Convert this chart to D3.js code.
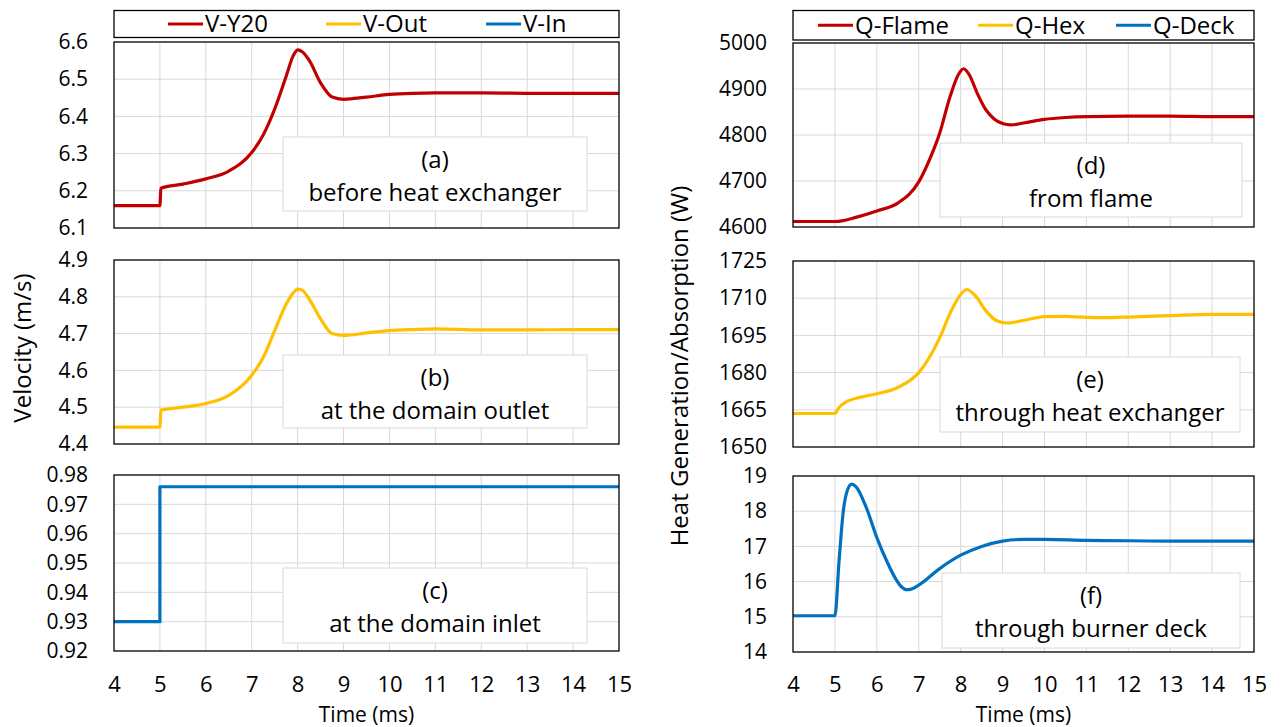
<!DOCTYPE html>
<html>
<head>
<meta charset="utf-8">
<script src="https://cdn.jsdelivr.net/npm/d3@7/dist/d3.min.js"></script>
<style>
  body { margin: 0; background: #fff; }
  text { font-family: "Open Sans", sans-serif; fill: #000; }
</style>
</head>
<body>
<div id="wrapper"></div>
<script>
(function () {
  "use strict";

  // DATA
  const timeV = [4, 5, 5.02, 5.5, 6, 6.5, 7, 7.25, 7.5, 7.75, 7.9, 8, 8.1, 8.25, 8.5, 8.75, 9, 9.5, 10, 10.5, 11, 12, 13, 14, 15]
  const vY20 = [6.16, 6.16, 6.207, 6.218, 6.232, 6.253, 6.303, 6.35, 6.42, 6.508, 6.562, 6.579, 6.574, 6.551, 6.49, 6.452, 6.446, 6.452, 6.459, 6.462, 6.463, 6.463, 6.462, 6.462, 6.462]
  const vOut = [4.446, 4.446, 4.492, 4.5, 4.51, 4.532, 4.587, 4.635, 4.708, 4.78, 4.81, 4.821, 4.818, 4.794, 4.74, 4.7, 4.695, 4.702, 4.708, 4.711, 4.713, 4.71, 4.71, 4.711, 4.711]

  const timeIn = [4, 5, 5, 15]
  const vIn = [0.93, 0.93, 0.976, 0.976]

  const timeFlame = [4, 5, 5.2, 5.5, 6, 6.5, 7, 7.25, 7.5, 7.75, 7.95, 8.07, 8.2, 8.4, 8.6, 8.8, 9, 9.2, 9.5, 10, 10.5, 11, 12, 13, 14, 15]
  const qFlame = [4612, 4612, 4614, 4621, 4635, 4652, 4698, 4745, 4804, 4884, 4932, 4944, 4932, 4890, 4855, 4835, 4825, 4822, 4826, 4834, 4838, 4840, 4841, 4841, 4840, 4840]

  const timeHex = [4, 5, 5.1, 5.3, 5.6, 6, 6.5, 7, 7.25, 7.5, 7.75, 8, 8.15, 8.35, 8.6, 8.85, 9.1, 9.5, 10, 10.5, 11, 11.5, 12, 13, 14, 15]
  const qHex = [1663.5, 1663.5, 1666, 1668.5, 1670, 1671.5, 1674, 1680, 1686, 1694, 1704, 1711.5, 1713.5, 1711, 1705, 1701, 1700, 1701, 1702.6, 1702.7, 1702.3, 1702.2, 1702.4, 1703, 1703.5, 1703.5]

  const timeDeck = [4, 5, 5.1, 5.2, 5.3, 5.4, 5.5, 5.75, 6, 6.25, 6.45, 6.6, 6.7, 6.8, 7, 7.5, 8, 8.5, 9, 9.5, 10, 11, 12, 13, 14, 15]
  const qDeck = [15.03, 15.03, 16.6, 18.0, 18.6, 18.77, 18.7, 18.1, 17.25, 16.55, 16.08, 15.84, 15.77, 15.78, 15.9, 16.37, 16.75, 17.0, 17.15, 17.2, 17.2, 17.17, 17.16, 17.15, 17.15, 17.15]

  const xTicks = d3.range(4, 16, 1)
  const ticksA = [6.1, 6.2, 6.3, 6.4, 6.5, 6.6]
  const ticksB = [4.4, 4.5, 4.6, 4.7, 4.8, 4.9]
  const ticksC = [0.92, 0.93, 0.94, 0.95, 0.96, 0.97, 0.98]
  const ticksD = [4600, 4700, 4800, 4900, 5000]
  const ticksE = [1650, 1665, 1680, 1695, 1710, 1725]
  const ticksF = [14, 15, 16, 17, 18, 19]

  const legendLeft = ["V-Y20", "V-Out", "V-In"]
  const legendRight = ["Q-Flame", "Q-Hex", "Q-Deck"]
  const colors = ["#c00000", "#ffc000", "#0070c0"]

  function draw() {

    // DIMENSIONS
    const dimensions = { width: 1288, height: 727 }
    const cols = [{ left: 114, right: 619 }, { left: 793, right: 1254 }]

    const panels = [
      { col: 0, top: 42, bottom: 228, t: timeV, v: vY20, ticks: ticksA, fmt: ".1f", color: colors[0],
        box: { x: 283, y: 137, w: 304, h: 74 }, label: ["(a)", "before heat exchanger"] },
      { col: 0, top: 260, bottom: 444, t: timeV, v: vOut, ticks: ticksB, fmt: ".1f", color: colors[1],
        box: { x: 283, y: 355, w: 304, h: 73 }, label: ["(b)", "at the domain outlet"] },
      { col: 0, top: 475, bottom: 651, t: timeIn, v: vIn, ticks: ticksC, fmt: ".2f", color: colors[2], linear: true,
        box: { x: 283, y: 568, w: 304, h: 75 }, label: ["(c)", "at the domain inlet"] },
      { col: 1, top: 43, bottom: 227, t: timeFlame, v: qFlame, ticks: ticksD, fmt: "d", color: colors[0],
        box: { x: 940, y: 143, w: 302, h: 74 }, label: ["(d)", "from flame"] },
      { col: 1, top: 261, bottom: 447, t: timeHex, v: qHex, ticks: ticksE, fmt: "d", color: colors[1],
        box: { x: 940, y: 357, w: 300, h: 75 }, label: ["(e)", "through heat exchanger"] },
      { col: 1, top: 476, bottom: 652, t: timeDeck, v: qDeck, ticks: ticksF, fmt: "d", color: colors[2],
        box: { x: 942, y: 573, w: 298, h: 75 }, label: ["(f)", "through burner deck"] }
    ]

    // CHART AREA
    const svg = d3.select("#wrapper").append("svg")
      .attr("width", dimensions.width)
      .attr("height", dimensions.height)
      .style("display", "block")

    svg.append("rect")
      .attr("width", dimensions.width)
      .attr("height", dimensions.height)
      .attr("fill", "#fff")

    panels.forEach(p => {
      const c = cols[p.col]
      const xScale = d3.scaleLinear().domain([4, 15]).range([c.left, c.right])
      const yScale = d3.scaleLinear().domain(d3.extent(p.ticks)).range([p.bottom, p.top])

      const g = svg.append("g")

      // gridlines
      g.append("g")
        .selectAll("line")
        .data(xTicks.slice(1, -1))
        .join("line")
        .attr("x1", d => xScale(d)).attr("x2", d => xScale(d))
        .attr("y1", p.top).attr("y2", p.bottom)
        .attr("stroke", "#d9d9d9").attr("stroke-width", 1)

      g.append("g")
        .selectAll("line")
        .data(p.ticks.slice(1, -1))
        .join("line")
        .attr("x1", c.left).attr("x2", c.right)
        .attr("y1", d => yScale(d)).attr("y2", d => yScale(d))
        .attr("stroke", "#d9d9d9").attr("stroke-width", 1)

      // y axis labels
      const yAxis = d3.axisLeft(yScale)
        .tickValues(p.ticks)
        .tickFormat(d3.format(p.fmt))
        .tickSize(0)
        .tickPadding(26)

      g.append("g")
        .attr("transform", `translate(${c.left},0)`)
        .call(yAxis)
        .call(ax => ax.select(".domain").remove())
        .selectAll("text")
        .style("font-family", "'Open Sans', sans-serif")
        .style("font-size", "21px")
        .attr("fill", "#000")

      // annotation box
      g.append("rect")
        .attr("x", p.box.x).attr("y", p.box.y)
        .attr("width", p.box.w).attr("height", p.box.h)
        .attr("fill", "#fff")
        .attr("stroke", "#d9d9d9")

      g.selectAll("text.note")
        .data(p.label)
        .join("text")
        .attr("class", "note")
        .attr("x", p.box.x + p.box.w / 2)
        .attr("y", (d, i) => p.box.y + (i === 0 ? 23 : 56))
        .attr("dy", "0.35em")
        .attr("text-anchor", "middle")
        .style("font-size", "24px")
        .text(d => d)

      // line
      const line = d3.line()
        .x((d, i) => xScale(p.t[i]))
        .y(d => yScale(d))
        .curve(p.linear ? d3.curveLinear : d3.curveMonotoneX)

      g.append("path")
        .datum(p.v)
        .attr("d", line)
        .attr("fill", "none")
        .attr("stroke", p.color)
        .attr("stroke-width", 3.2)
        .attr("stroke-linejoin", "round")

      // frame
      g.append("rect")
        .attr("x", c.left).attr("y", p.top)
        .attr("width", c.right - c.left).attr("height", p.bottom - p.top)
        .attr("fill", "none")
        .attr("stroke", "#000")
        .attr("stroke-width", 1.3)
    })

    // X AXES
    cols.forEach(c => {
      const xScale = d3.scaleLinear().domain([4, 15]).range([c.left, c.right])
      const xAxis = d3.axisBottom(xScale).tickValues(xTicks).tickSize(0).tickPadding(0)
      svg.append("g")
        .attr("transform", "translate(0,684)")
        .call(xAxis)
        .call(ax => ax.select(".domain").remove())
        .selectAll("text")
        .style("font-family", "'Open Sans', sans-serif")
        .style("font-size", "22px")
        .attr("fill", "#000")
        .attr("y", 0)
        .attr("dy", "0.35em")

      svg.append("text")
        .attr("x", (c.left + c.right) / 2)
        .attr("y", 715)
        .attr("dy", "0.35em")
        .attr("text-anchor", "middle")
        .style("font-size", "21px")
        .text("Time (ms)")
    })

    // Y TITLES
    svg.append("text")
      .attr("transform", "translate(23,348) rotate(-90)")
      .attr("dy", "0.35em")
      .attr("text-anchor", "middle")
      .style("font-size", "24px")
      .text("Velocity (m/s)")

    svg.append("text")
      .attr("transform", "translate(680,366) rotate(-90)")
      .attr("dy", "0.35em")
      .attr("text-anchor", "middle")
      .style("font-size", "24px")
      .text("Heat Generation/Absorption (W)")

    // LEGENDS
    const legends = [
      { col: 0, top: 10.5, bottom: 37.5, names: legendLeft, starts: [168, 326, 486] },
      { col: 1, top: 10.5, bottom: 40, names: legendRight, starts: [818, 978, 1116] }
    ]

    legends.forEach(l => {
      const c = cols[l.col]
      const cy = (l.top + l.bottom) / 2
      svg.append("rect")
        .attr("x", c.left).attr("y", l.top)
        .attr("width", c.right - c.left).attr("height", l.bottom - l.top)
        .attr("fill", "#fff")
        .attr("stroke", "#000")
        .attr("stroke-width", 1.3)

      const items = svg.append("g").selectAll("g")
        .data(l.names)
        .join("g")
        .attr("transform", (d, i) => `translate(${l.starts[i]},${cy})`)

      items.append("line")
        .attr("x1", 0).attr("x2", 35)
        .attr("stroke", (d, i) => colors[i])
        .attr("stroke-width", 3.2)

      items.append("text")
        .attr("x", 37)
        .attr("dy", "0.35em")
        .style("font-size", "24px")
        .text(d => d)
    })
  }
  draw()

})();
</script>
</body>
</html>
